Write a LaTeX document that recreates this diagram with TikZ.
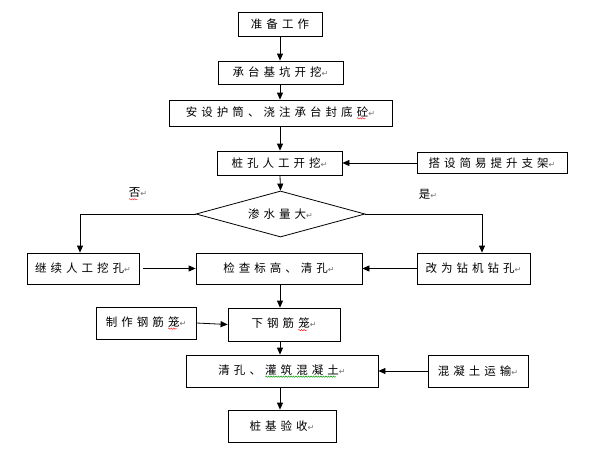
\documentclass[tikz,border=0pt]{standalone}
\usepackage{fontspec}
\newfontfamily\cjk[LetterSpace=35]{Noto Sans CJK SC}
\newfontfamily\dejavu{DejaVu Sans}
\usetikzlibrary{arrows.meta,shapes.geometric,decorations.pathmorphing}
\newcommand\cjkfont{\cjk\fontsize{11.5}{12}\selectfont}
\newcommand\pmark{{\dejavu\fontsize{8}{8}\selectfont\color{black!55}↵}}
\newcommand\wavy[2]{\kern4pt\tikz[baseline=(w.base)]{\node[draw=none,rectangle,inner sep=0pt,outer sep=0pt,minimum width=0pt,minimum height=0pt,font=\cjkfont] (w) {#2};
  \draw[draw=#1,line width=0.4pt,decorate,decoration={snake,amplitude=0.7pt,segment length=2.5pt}] ([yshift=-1.5pt]w.south west) -- ([yshift=-1.5pt,xshift=-3pt]w.south east);}}
\begin{document}
\begin{tikzpicture}[x=1pt,y=-1pt,
  box/.style={draw=black,line width=0.8pt,rectangle,inner sep=0pt,align=center,font=\cjkfont},
  dia/.style={draw=black,line width=0.8pt,diamond,shape aspect=3.67,inner sep=0pt,font=\cjkfont},
  lab/.style={inner sep=0pt,font=\cjkfont},
  arr/.style={line width=0.8pt,-{Triangle[length=7pt,width=6pt]}}]
\fill[white] (0,0) rectangle (600,450);
\useasboundingbox (0,0) rectangle (600,450);
\node[box,minimum width=84pt,minimum height=24pt] (a) at (280,24) {准备工作};
\node[box,minimum width=125pt,minimum height=23pt] (b) at (280.5,72.5) {承台基坑开挖\pmark};
\node[box,minimum width=223pt,minimum height=26pt] (c) at (280.5,113) {安设护筒、浇注承台封底\wavy{red}{砼}\pmark};
\node[box,minimum width=125pt,minimum height=24pt] (d) at (279.5,163) {桩孔人工开挖\pmark};
\node[box,minimum width=150pt,minimum height=21pt] (e) at (492,163) {搭设简易提升支架\pmark};
\node[dia,minimum width=169pt,minimum height=46pt] (f) at (280.5,214) {渗水量大\pmark};
\node[lab] (no) at (136,194) {\wavy{red}{否}\pmark};
\node[lab] (yes) at (428,194) {是\pmark};
\node[box,minimum width=112pt,minimum height=31pt] (g) at (83,268.5) {继续人工挖孔\pmark};
\node[box,minimum width=166pt,minimum height=31pt] (h) at (279,268.5) {检查标高、清孔\pmark};
\node[box,minimum width=113pt,minimum height=31pt] (i) at (473.5,268.5) {改为钻机钻孔\pmark};
\node[box,minimum width=100pt,minimum height=32pt] (j) at (146,323) {制作钢筋\wavy{red}{笼}\pmark};
\node[box,minimum width=112pt,minimum height=33pt] (k) at (284,324.5) {下钢筋\wavy{red}{笼}\pmark};
\node[box,minimum width=192pt,minimum height=32pt] (l) at (282,371) {清孔、\wavy{green!60!black}{灌筑混凝土}\pmark};
\node[box,minimum width=100pt,minimum height=32pt] (m) at (478,371) {混凝土运输\pmark};
\node[box,minimum width=108pt,minimum height=32pt] (n) at (282,426) {桩基验收\pmark};
\coordinate (cx) at (280,0);
\draw[arr] (a.south -| cx) -- (b.north -| cx);
\draw[arr] (b.south -| cx) -- (c.north -| cx);
\draw[arr] (c.south -| cx) -- (d.north -| cx);
\draw[arr] (d.south -| cx) -- (f.north);
\draw[arr] (e.west) -- (d.east);
\draw[arr] (f.west) -| ([xshift=-3pt]g.north);
\draw[arr] (f.east) -| ([xshift=8.5pt]i.north);
\draw[arr,shorten <=4pt] (g.east) -- (h.west);
\draw[arr] (i.west) -- (h.east);
\draw[arr] (h.south -| cx) -- (k.north -| cx);
\draw[arr] (j.east) -- (k.west);
\draw[arr] (k.south -| cx) -- (l.north -| cx);
\draw[arr] (m.west) -- (l.east);
\draw[arr] (l.south -| cx) -- (n.north -| cx);
\end{tikzpicture}
\end{document}
